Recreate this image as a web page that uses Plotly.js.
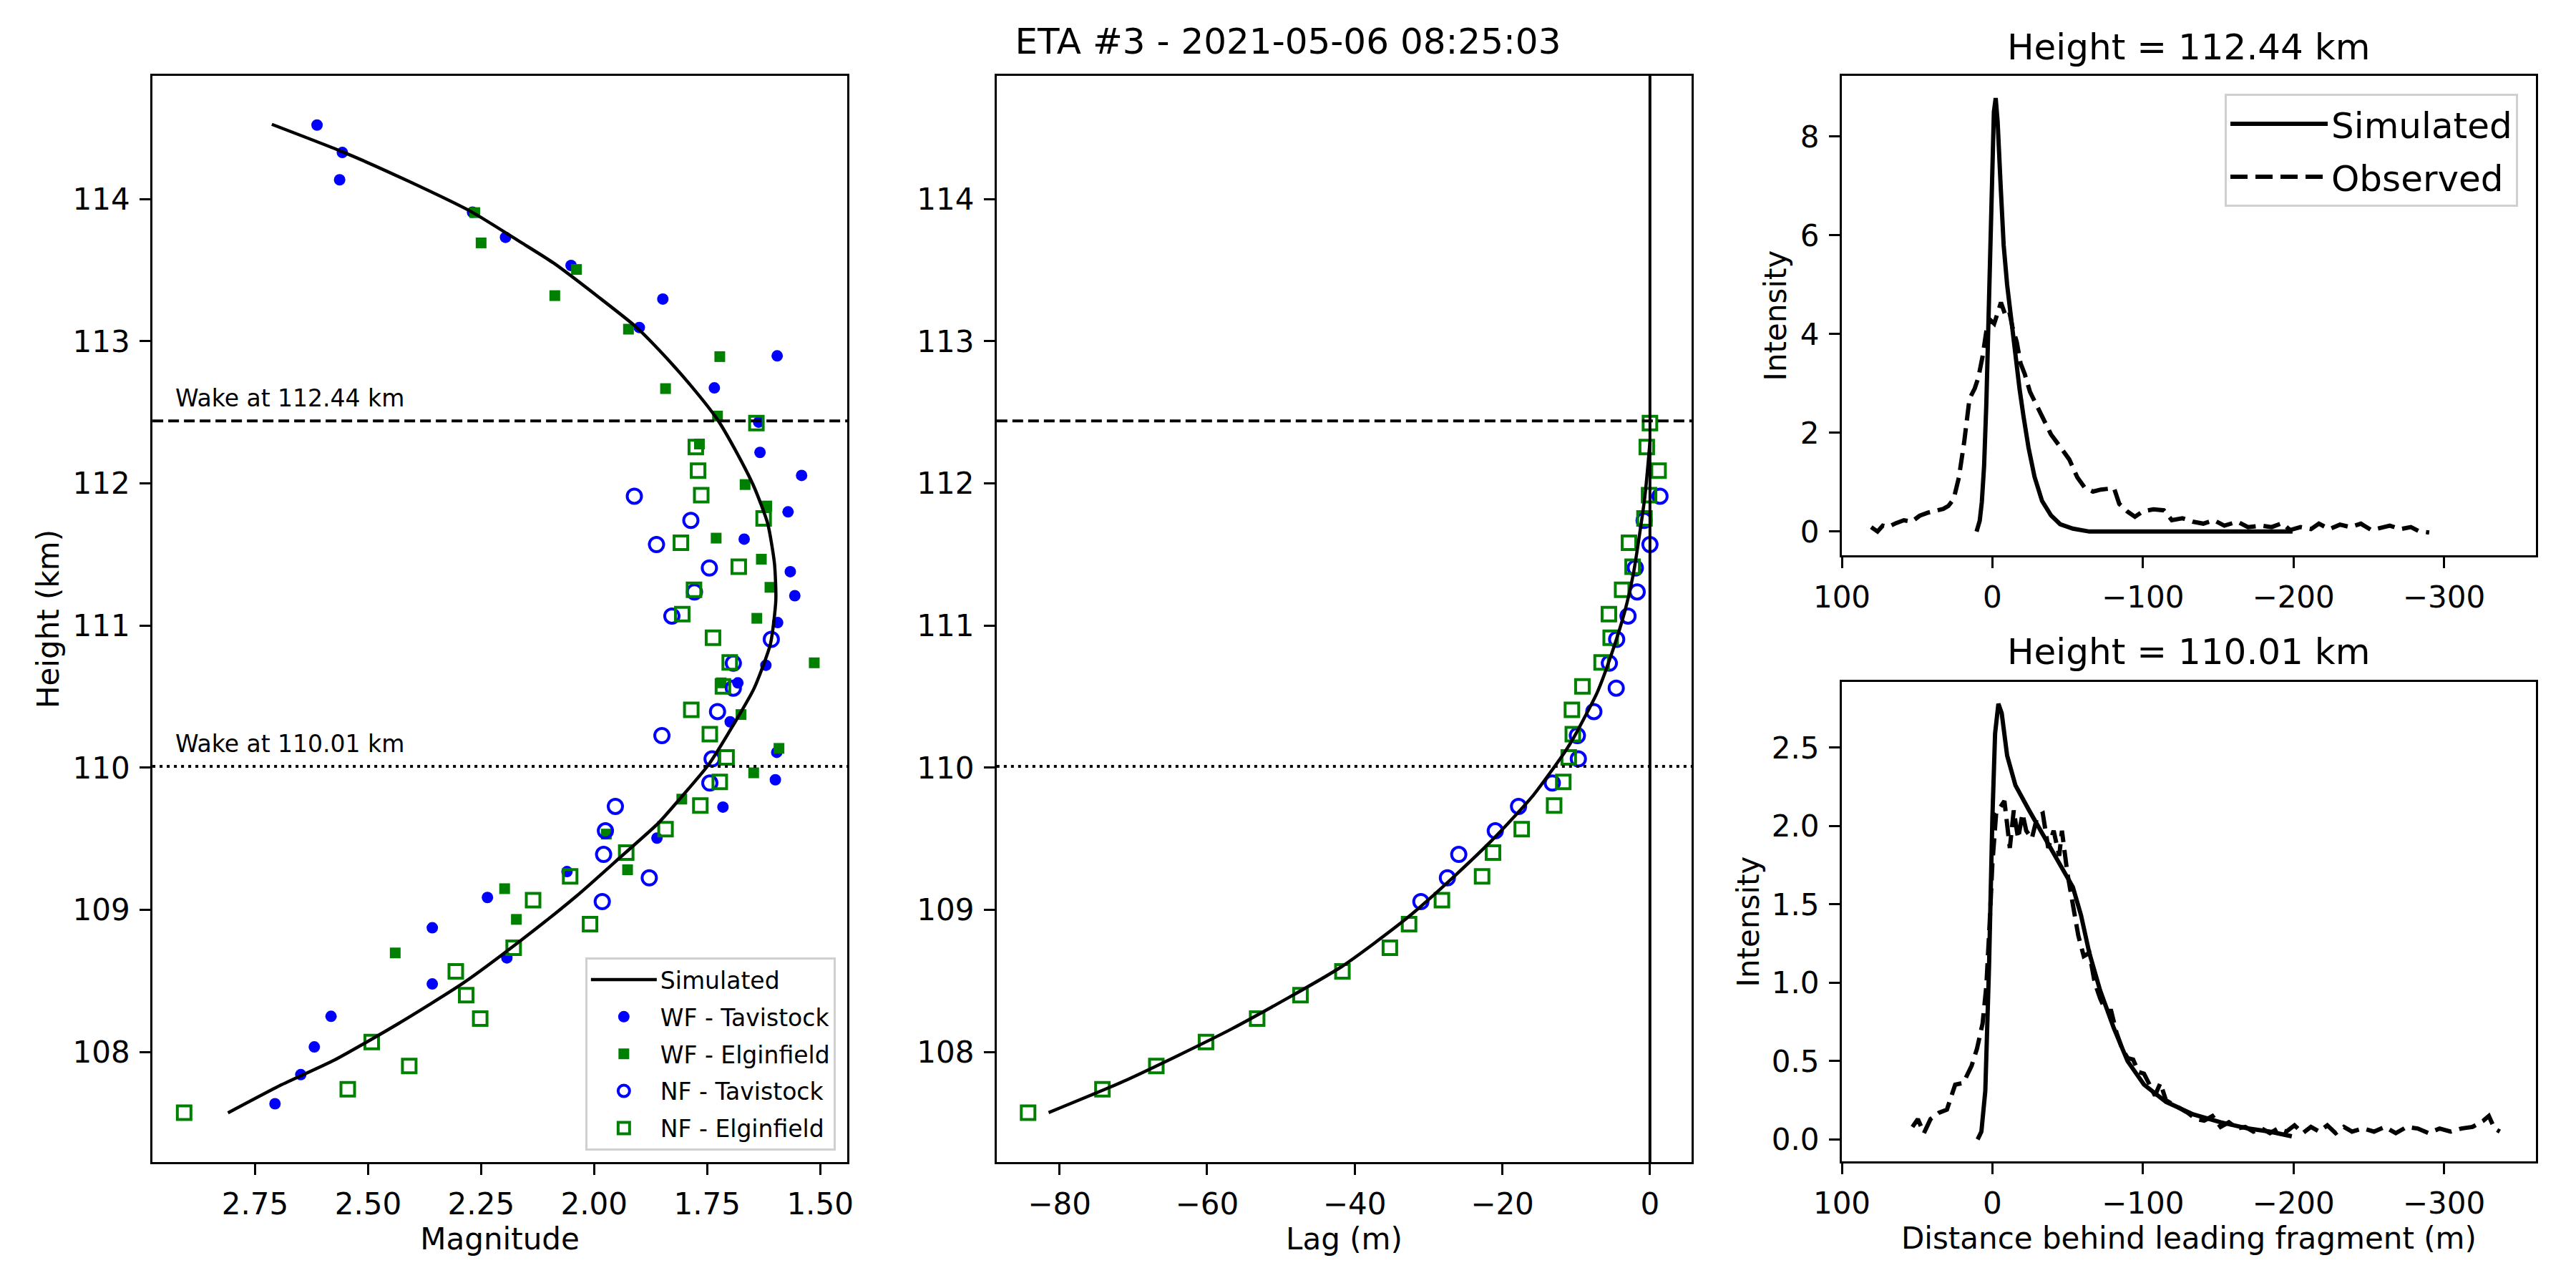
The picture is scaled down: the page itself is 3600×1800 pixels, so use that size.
<!DOCTYPE html>
<html>
<head>
<meta charset="utf-8">
<script src="https://cdn.plot.ly/plotly-3.0.1.min.js"></script>
<style>html,body{margin:0;padding:0;background:#fff}#plot{width:3600px;height:1800px}</style>
</head>
<body>
<div id="plot"></div>
<script>
// ---------------- data ----------------
const suptitleText = 'ETA #3 - 2021-05-06 08:25:03';
const wakeHeights = [112.44, 110.01];

// Simulated magnitude profile (left panel)
const simH   = [107.572, 107.764, 107.944, 108.200, 108.482, 108.790, 109.097, 109.379, 109.610, 109.790, 110.021, 110.328, 110.559, 110.870, 111.179, 111.436, 111.718, 111.974, 112.231, 112.449, 112.692, 112.910, 113.103, 113.308, 113.551, 113.692, 113.910, 114.128, 114.328, 114.526];
const simMag = [2.810, 2.695, 2.574, 2.433, 2.291, 2.160, 2.039, 1.939, 1.858, 1.808, 1.747, 1.687, 1.646, 1.610, 1.598, 1.601, 1.616, 1.646, 1.687, 1.727, 1.787, 1.848, 1.908, 1.989, 2.090, 2.160, 2.271, 2.412, 2.553, 2.713];

// Simulated lag profile (middle panel)
const simLagH = [107.574, 107.805, 108.164, 108.600, 108.933, 109.215, 109.523, 109.805, 110.113, 110.218, 110.526, 110.782, 111.090, 111.372, 111.679, 111.910, 112.141, 112.295];
const simLag  = [-81.46, -70.83, -56.61, -41.78, -33.13, -26.95, -20.77, -15.82, -11.50, -10.26, -7.17, -5.32, -3.46, -2.22, -1.30, -0.68, -0.25, 0.0];

// WF - Tavistock
const wfTavH   = [114.521, 114.328, 114.136, 113.908, 113.731, 113.533, 113.297, 113.097, 112.897, 112.672, 112.431, 112.218, 112.056, 111.800, 111.608, 111.379, 111.210, 111.021, 110.721, 110.597, 110.323, 110.108, 109.915, 109.723, 109.505, 109.269, 109.087, 108.874, 108.662, 108.479, 108.251, 108.036, 107.841, 107.636];
const wfTavMag = [2.613, 2.557, 2.563, 2.269, 2.196, 2.051, 1.848, 1.900, 1.595, 1.734, 1.636, 1.633, 1.541, 1.571, 1.668, 1.566, 1.556, 1.594, 1.620, 1.682, 1.699, 1.596, 1.599, 1.715, 1.861, 2.060, 2.236, 2.358, 2.193, 2.358, 2.582, 2.619, 2.649, 2.706];

// WF - Elginfield
const wfElgH   = [113.905, 113.692, 113.505, 113.321, 113.085, 112.892, 112.667, 112.474, 112.277, 111.992, 111.841, 111.615, 111.467, 111.269, 111.051, 110.738, 110.597, 110.374, 110.136, 109.964, 109.779, 109.533, 109.282, 109.149, 108.933, 108.697];
const wfElgMag = [2.264, 2.250, 2.039, 2.087, 1.924, 1.722, 1.842, 1.727, 1.767, 1.666, 1.618, 1.730, 1.630, 1.611, 1.640, 1.513, 1.719, 1.675, 1.591, 1.647, 1.806, 1.973, 1.926, 2.198, 2.172, 2.440];

// NF - Tavistock
const nfTavH   = [111.910, 111.740, 111.570, 111.405, 111.237, 111.067, 110.903, 110.735, 110.560, 110.395, 110.226, 110.062, 109.892, 109.728, 109.556, 109.390, 109.225, 109.058];
const nfTavMag = [1.911, 1.786, 1.862, 1.745, 1.778, 1.828, 1.608, 1.692, 1.692, 1.727, 1.850, 1.739, 1.744, 1.953, 1.975, 1.979, 1.878, 1.982];
const nfTavLag = [1.36, -0.80, 0.00, -1.98, -1.73, -2.97, -4.51, -5.50, -4.57, -7.60, -9.83, -9.70, -13.23, -17.80, -20.95, -25.90, -27.44, -31.03];

// NF - Elginfield
const nfElgH   = [112.425, 112.256, 112.090, 111.917, 111.754, 111.582, 111.414, 111.252, 111.080, 110.914, 110.741, 110.572, 110.407, 110.236, 110.072, 109.900, 109.734, 109.568, 109.403, 109.236, 109.068, 108.900, 108.733, 108.567, 108.400, 108.235, 108.070, 107.902, 107.738, 107.573];
const nfElgMag = [1.641, 1.775, 1.770, 1.763, 1.625, 1.808, 1.680, 1.779, 1.805, 1.737, 1.700, 1.715, 1.785, 1.744, 1.707, 1.722, 1.765, 1.842, 1.929, 2.053, 2.135, 2.009, 2.178, 2.306, 2.283, 2.252, 2.492, 2.409, 2.545, 2.907];
const nfElgLag = [0.00, -0.43, 1.17, -0.12, -0.74, -2.84, -2.35, -3.77, -5.56, -5.32, -6.55, -9.15, -10.57, -10.45, -11.00, -11.74, -12.98, -17.37, -21.26, -22.74, -28.18, -32.63, -35.23, -41.66, -47.34, -53.21, -60.14, -66.87, -74.17, -84.24];

// Wake profile at 112.44 km
const topSimX = [10.5, 8.4, 7.0, 5.5, 4.0, 2.9, 1.5, 0.4, -1.0, -2.2, -3.5, -5.5, -7.5, -9.8, -12.5, -15.3, -18.0, -20.7, -24.0, -28.0, -33.0, -38.9, -45.0, -53.5, -64.4, -130.0, -199.4];
const topSimY = [0, 0.22, 0.6, 1.33, 2.6, 4.1, 5.8, 7.4, 8.5, 8.78, 8.3, 7.0, 5.8, 5.0, 4.25, 3.56, 2.9, 2.33, 1.7, 1.11, 0.62, 0.33, 0.15, 0.06, 0, 0, 0];
const topObsX = [80.5, 76.3, 72.8, 69.3, 64.1, 58.8, 53.6, 48.3, 43.1, 37.9, 32.6, 29.2, 25.7, 22.2, 18.7, 15.2, 11.7, 9.3, 6.5, 4.0, 1.2, -1.2, -4.0, -5.7, -8.2, -11.0, -13.4, -16.2, -18.7, -21.5, -25.0, -28.4, -33.7, -38.9, -45.9, -51.1, -56.4, -61.6, -66.8, -72.1, -80.8, -84.3, -89.5, -94.7, -100.0, -107.0, -113.9, -119.2, -126.2, -133.1, -140.1, -147.1, -154.1, -162.8, -169.8, -178.5, -185.5, -192.5, -197.7, -204.7, -211.7, -216.9, -223.9, -230.9, -237.8, -244.8, -251.8, -258.8, -264.0, -271.0, -278.0, -283.2, -290.2];
const topObsY = [0.09, 0.0, 0.12, 0.09, 0.17, 0.23, 0.20, 0.32, 0.38, 0.43, 0.46, 0.52, 0.66, 1.10, 1.82, 2.69, 2.90, 3.12, 3.55, 4.06, 4.28, 4.21, 4.49, 4.64, 4.42, 4.49, 4.13, 3.84, 3.41, 3.19, 2.83, 2.62, 2.25, 1.97, 1.68, 1.46, 1.10, 0.88, 0.81, 0.85, 0.88, 0.56, 0.41, 0.30, 0.41, 0.45, 0.43, 0.23, 0.27, 0.20, 0.16, 0.23, 0.12, 0.20, 0.09, 0.12, 0.09, 0.17, 0.03, 0.09, 0.05, 0.16, 0.05, 0.14, 0.09, 0.16, 0.03, 0.09, 0.12, 0.05, 0.09, 0.01, -0.02];

// Wake profile at 110.01 km
const botSimX = [9.8, 7.3, 4.7, 2.2, 0.0, -1.8, -4.0, -6.2, -9.8, -15.3, -24.4, -35.3, -46.2, -53.5, -58.9, -64.4, -71.6, -80.7, -89.8, -100.7, -115.3, -133.5, -151.6, -169.8, -184.4, -198.9];
const botSimY = [0, 0.05, 0.31, 1.11, 2.05, 2.59, 2.78, 2.72, 2.45, 2.26, 2.10, 1.92, 1.73, 1.61, 1.43, 1.19, 0.95, 0.71, 0.50, 0.35, 0.24, 0.16, 0.11, 0.07, 0.05, 0.02];
const botObsX = [53.1, 49.5, 45.5, 41.1, 35.6, 30.2, 24.7, 19.3, 13.8, 10.2, 6.5, 4.0, 1.8, 0.0, -2.5, -5.5, -8.0, -11.6, -14.2, -17.1, -20.0, -22.5, -26.2, -29.8, -33.5, -37.1, -40.7, -44.4, -46.2, -49.8, -53.5, -57.1, -60.7, -64.4, -68.0, -71.6, -75.3, -78.9, -82.5, -86.2, -89.8, -93.5, -97.1, -100.7, -104.4, -108.0, -111.6, -115.3, -118.9, -124.4, -129.8, -135.3, -140.7, -146.2, -151.6, -157.1, -162.5, -168.0, -173.4, -178.9, -184.4, -189.8, -195.3, -200.7, -206.2, -211.6, -217.1, -222.5, -228.0, -233.5, -238.9, -246.2, -253.5, -260.7, -268.0, -275.3, -282.5, -289.8, -297.1, -304.4, -311.6, -318.9, -326.2, -329.8, -333.5, -337.1];
const botObsY = [0.08, 0.13, 0.04, 0.13, 0.17, 0.19, 0.35, 0.36, 0.47, 0.58, 0.74, 0.98, 1.38, 1.76, 2.08, 2.13, 2.16, 1.86, 2.10, 1.92, 2.08, 1.97, 1.92, 2.06, 2.08, 1.86, 1.97, 1.81, 1.97, 1.70, 1.51, 1.30, 1.17, 1.19, 1.00, 0.90, 0.82, 0.82, 0.68, 0.58, 0.52, 0.51, 0.43, 0.42, 0.35, 0.28, 0.36, 0.25, 0.23, 0.20, 0.17, 0.13, 0.12, 0.15, 0.08, 0.11, 0.07, 0.08, 0.05, 0.07, 0.04, 0.07, 0.05, 0.09, 0.04, 0.08, 0.05, 0.09, 0.04, 0.08, 0.05, 0.07, 0.05, 0.08, 0.04, 0.08, 0.07, 0.04, 0.07, 0.05, 0.07, 0.08, 0.12, 0.15, 0.07, 0.05];

// ---------------- styles ----------------
const FONT = 'DejaVu Sans, Liberation Sans, sans-serif';
const BLUE = '#0000ff', GREEN = '#008000';

const traces = [
  {x: wfTavMag, y: wfTavH, xaxis: 'x', yaxis: 'y', mode: 'markers', name: 'WF - Tavistock', legendrank: 2, legendgroup: 'a2',
   marker: {symbol: 'circle', size: 16, color: BLUE, line: {width: 0}}},
  {x: wfElgMag, y: wfElgH, xaxis: 'x', yaxis: 'y', mode: 'markers', name: 'WF - Elginfield', legendrank: 3, legendgroup: 'a3',
   marker: {symbol: 'square', size: 15, color: GREEN, line: {width: 0}}},
  {x: nfTavMag, y: nfTavH, xaxis: 'x', yaxis: 'y', mode: 'markers', name: 'NF - Tavistock', legendrank: 4, legendgroup: 'a4',
   marker: {symbol: 'circle-open', size: 20, color: BLUE, line: {width: 4, color: BLUE}}},
  {x: nfElgMag, y: nfElgH, xaxis: 'x', yaxis: 'y', mode: 'markers', name: 'NF - Elginfield', legendrank: 5, legendgroup: 'a5',
   marker: {symbol: 'square-open', size: 19, color: GREEN, line: {width: 4, color: GREEN}}},
  {x: simMag, y: simH, xaxis: 'x', yaxis: 'y', mode: 'lines', name: 'Simulated', legendrank: 1, legendgroup: 'a1',
   line: {color: 'black', width: 4.5, shape: 'spline', smoothing: 0.6}},

  {x: nfTavLag, y: nfTavH, xaxis: 'x2', yaxis: 'y2', mode: 'markers', name: 'NF - Tavistock', showlegend: false,
   marker: {symbol: 'circle-open', size: 20, color: BLUE, line: {width: 4, color: BLUE}}},
  {x: nfElgLag, y: nfElgH, xaxis: 'x2', yaxis: 'y2', mode: 'markers', name: 'NF - Elginfield', showlegend: false,
   marker: {symbol: 'square-open', size: 19, color: GREEN, line: {width: 4, color: GREEN}}},
  {x: simLag, y: simLagH, xaxis: 'x2', yaxis: 'y2', mode: 'lines', name: 'Simulated', showlegend: false,
   line: {color: 'black', width: 4.5, shape: 'spline', smoothing: 0.6}},

  {x: topSimX, y: topSimY, xaxis: 'x3', yaxis: 'y3', mode: 'lines', name: 'Simulated', legend: 'legend2', legendgroup: 'b1',
   line: {color: 'black', width: 6}},
  {x: topObsX, y: topObsY, xaxis: 'x3', yaxis: 'y3', mode: 'lines', name: 'Observed', legend: 'legend2', legendgroup: 'b2',
   line: {color: 'black', width: 6, dash: '24px,11px'}},

  {x: botSimX, y: botSimY, xaxis: 'x4', yaxis: 'y4', mode: 'lines', name: 'Simulated', showlegend: false,
   line: {color: 'black', width: 6}},
  {x: botObsX, y: botObsY, xaxis: 'x4', yaxis: 'y4', mode: 'lines', name: 'Observed', showlegend: false,
   line: {color: 'black', width: 6, dash: '24px,11px'}}
];

function ax(extra) {
  return Object.assign({
    showline: true, mirror: true, linecolor: 'black', linewidth: 3,
    ticks: 'outside', ticklen: 15, tickwidth: 3, tickcolor: 'black',
    showgrid: false, zeroline: false, automargin: false,
    tickfont: {family: FONT, size: 42, color: 'black'},
    ticklabelstandoff: 5, fixedrange: true
  }, extra);
}
function ttl(text, standoff) {
  return {text: text, font: {family: FONT, size: 42, color: 'black'}, standoff: standoff};
}

const H_DOM = [0.0978, 0.9411];
const layout = {
  width: 3600, height: 1800,
  margin: {l: 0, r: 0, t: 0, b: 0},
  paper_bgcolor: 'white', plot_bgcolor: 'white',
  font: {family: FONT, color: 'black'},
  title: {text: suptitleText, x: 0.5, xanchor: 'center', y: 0.9585, yanchor: 'bottom',
          font: {family: FONT, size: 50, color: 'black'}},
  xaxis:  ax({domain: [0.0592, 0.3289], range: [2.977, 1.440], anchor: 'y', tick0: 0, dtick: 0.25, tickformat: '.2f', title: ttl('Magnitude', 2)}),
  yaxis:  ax({domain: H_DOM, range: [107.226, 114.867], anchor: 'x', tick0: 0, dtick: 1, title: ttl('Height (km)', 6)}),
  xaxis2: ax({domain: [0.3869, 0.6567], range: [-88.5, 5.65], anchor: 'y2', tick0: 0, dtick: 20, title: ttl('Lag (m)', 2)}),
  yaxis2: ax({domain: H_DOM, range: [107.226, 114.867], anchor: 'x2', tick0: 0, dtick: 1}),
  xaxis3: ax({domain: [0.715, 0.9844], range: [100, -361], anchor: 'y3', tick0: 0, dtick: 100}),
  yaxis3: ax({domain: [0.5689, 0.9411], range: [-0.48, 9.23], anchor: 'x3', tick0: 0, dtick: 2, title: ttl('Intensity', 7)}),
  xaxis4: ax({domain: [0.715, 0.9844], range: [100, -361], anchor: 'y4', tick0: 0, dtick: 100, title: ttl('Distance behind leading fragment (m)', 2)}),
  yaxis4: ax({domain: [0.0983, 0.4706], range: [-0.14, 2.92], anchor: 'x4', tick0: 0, dtick: 0.5, tickformat: '.1f', title: ttl('Intensity', 5)}),
  legend: {x: 0.3244, xanchor: 'right', y: 0.1067, yanchor: 'bottom',
           bgcolor: 'rgba(255,255,255,0.8)', bordercolor: '#d0d0d0', borderwidth: 3,
           font: {family: FONT, size: 33, color: 'black'}, itemwidth: 92, tracegroupgap: 6, itemsizing: 'trace'},
  legend2: {x: 0.9775, xanchor: 'right', y: 0.9272, yanchor: 'top',
           bgcolor: 'rgba(255,255,255,0.8)', bordercolor: '#d0d0d0', borderwidth: 3,
           font: {family: FONT, size: 50, color: 'black'}, itemwidth: 136, tracegroupgap: 6},
  shapes: [],
  annotations: []
};

// Wake reference lines on left and middle panels
const dashStyles = ['15px,7px', '4px,6px'];
wakeHeights.forEach((h, i) => {
  ['x', 'x2'].forEach((xa, j) => {
    layout.shapes.push({type: 'line', xref: xa + ' domain', x0: 0, x1: 1, yref: j === 0 ? 'y' : 'y2', y0: h, y1: h,
      line: {color: 'black', width: 4, dash: dashStyles[i]}});
  });
  layout.annotations.push({xref: 'x', yref: 'y', x: 2.93, y: h + 0.05, xanchor: 'left', yanchor: 'bottom',
    text: 'Wake at ' + h.toFixed(2) + ' km', showarrow: false, font: {family: FONT, size: 33, color: 'black'}});
});
// zero-lag vertical line in middle panel
layout.shapes.push({type: 'line', xref: 'x2', x0: 0, x1: 0, yref: 'y2 domain', y0: 0, y1: 1, line: {color: 'black', width: 4}});

// Right-panel titles
const titleY = [0.9461, 0.4767];
wakeHeights.forEach((h, i) => {
  layout.annotations.push({xref: 'paper', yref: 'paper', x: 0.8497, y: titleY[i], xanchor: 'center', yanchor: 'bottom',
    text: 'Height = ' + h.toFixed(2) + ' km', showarrow: false, font: {family: FONT, size: 50, color: 'black'}});
});

Plotly.newPlot('plot', traces, layout, {displayModeBar: false, staticPlot: true});
</script>
</body>
</html>
